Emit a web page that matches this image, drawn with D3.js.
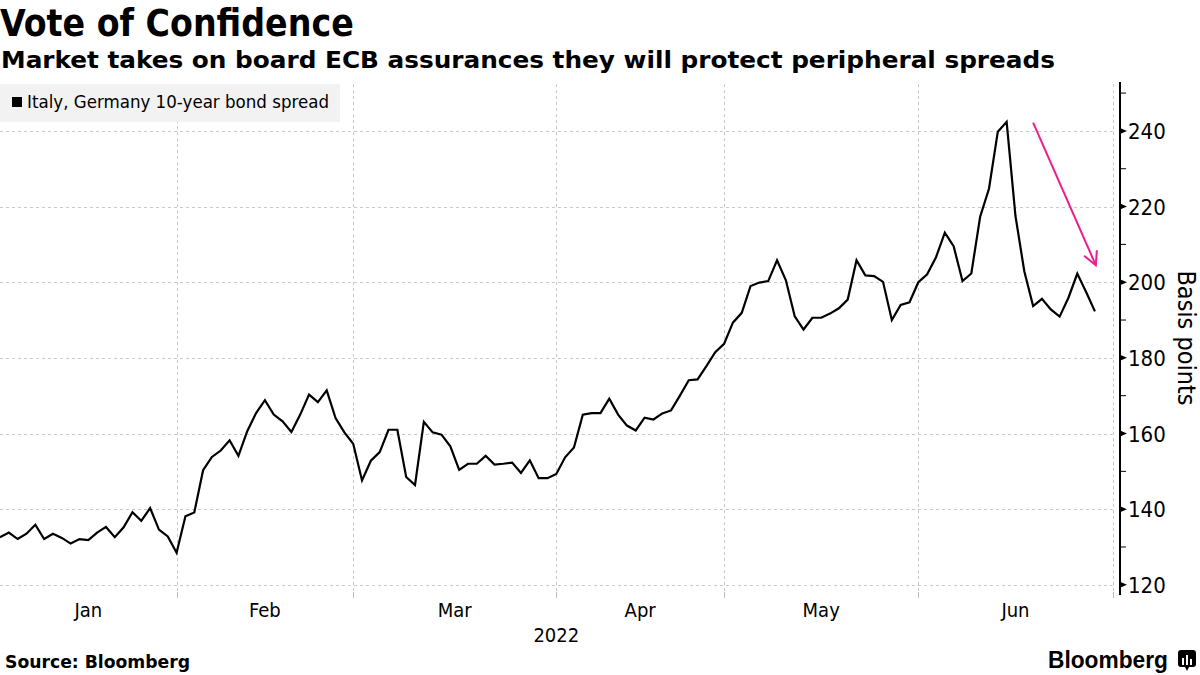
<!DOCTYPE html>
<html>
<head>
<meta charset="utf-8">
<script src="https://cdn.jsdelivr.net/npm/d3@7"></script>
<style>
  html, body { margin: 0; padding: 0; background: #fff; }
  svg { display: block; }
  text { font-family: "DejaVu Sans Condensed", "DejaVu Sans", sans-serif; font-stretch: condensed; }
</style>
</head>
<body>
<svg id="chart" width="1200" height="675"></svg>
<script>
// ---------------- data ----------------
const title = "Vote of Confidence";
const subtitle = "Market takes on board ECB assurances they will protect peripheral spreads";
const seriesName = "Italy, Germany 10-year bond spread";
const yLabel = "Basis points";
const yearLabel = "2022";
const sourceText = "Source: Bloomberg";

// trading calendar (business days, Jan 3 – Jun 30, 2022) and market holidays
const calendarStart = "2022-01-03";
const calendarEnd = "2022-06-30";
const holidays = ["2022-04-15", "2022-04-18"];

// spread values, one per trading day from Jan 3, 2022 (basis points)
const spread = [
  132.6, 133.8, 132.1, 133.5, 135.9, 132.1, 133.5, 132.4, 130.9, 132.1,
  131.8, 133.8, 135.3, 132.6, 135.2, 139.2, 136.9, 140.3, 134.6, 132.8,
  128.5, 138.1, 139.1, 150.3, 153.8, 155.5, 158.2, 154.1, 160.6, 165.4,
  168.8, 165.0, 163.2, 160.4, 165.0, 170.3, 168.3, 171.4, 164.1, 160.3,
  157.3, 147.6, 152.8, 155.1, 161.0, 161.0, 148.5, 146.4, 163.1, 160.3,
  159.7, 156.6, 150.4, 152.0, 152.0, 154.1, 151.8, 152.0, 152.3, 149.6,
  152.9, 148.2, 148.2, 149.3, 153.7, 156.3, 165.0, 165.4, 165.4, 169.2,
  165.0, 162.1, 160.8, 164.2, 163.7, 165.3, 166.1, 170.0, 174.1, 174.3,
  177.8, 181.5, 183.7, 189.3, 191.9, 199.0, 199.9, 200.3, 205.8, 200.5,
  191.0, 187.5, 190.6, 190.6, 191.7, 193.1, 195.4, 205.8, 201.8, 201.6,
  200.1, 190.0, 194.0, 194.7, 200.0, 202.1, 206.6, 213.1, 209.5, 200.3,
  202.3, 217.3, 224.7, 239.8, 242.4, 217.5, 202.9, 193.7, 195.6, 192.8,
  190.9, 195.9, 202.3, 197.4, 192.3
];

const yTicks = [120, 140, 160, 180, 200, 220, 240];
const yMinorTicks = [130, 150, 170, 190, 210, 230, 250];
const yDomain = [118.1, 252.4];
// arrow annotation: from / to (trading-day index, value)
const arrowFrom = { i: 117, v: 242.2 };
const arrowTo = { i: 124.1, v: 204.5 };

// ---------------- calendar ----------------
const parse = d3.timeParse("%Y-%m-%d");
const fmt = d3.timeFormat("%Y-%m-%d");
const tradingDays = d3.timeDay.range(parse(calendarStart), d3.timeDay.offset(parse(calendarEnd), 1))
  .filter(d => d.getDay() !== 0 && d.getDay() !== 6 && !holidays.includes(fmt(d)));
const data = spread.map((v, i) => ({ i, date: tradingDays[i], v }));

// month-end boundaries (last trading day of each month)
const monthEnds = [];
tradingDays.forEach((d, i) => {
  const next = tradingDays[i + 1];
  if (!next || next.getMonth() !== d.getMonth()) monthEnds.push(i);
});
const monthLabels = [];
let prev = 0;
monthEnds.forEach(e => {
  monthLabels.push({ from: prev, to: e, label: d3.timeFormat("%b")(tradingDays[e]) });
  prev = e;
});

// ---------------- layout ----------------
const svg = d3.select("#chart");
const plot = { left: 0, right: 1112.6, top: 84, bottom: 592 };
const axisX = 1120;

const x = d3.scaleLinear().domain([0, tradingDays.length - 1]).range([plot.left, plot.right]);
const y = d3.scaleLinear().domain(yDomain).range([plot.bottom, plot.top]);

function fitText(sel, width) {
  const w = sel.node().getComputedTextLength();
  if (Math.abs(w - width) / width > 0.01) {
    sel.attr("textLength", width).attr("lengthAdjust", "spacingAndGlyphs");
  }
}

// titles
const t1 = svg.append("text").attr("x", 0).attr("y", 36)
  .attr("font-size", 37).attr("font-weight", "bold").attr("fill", "#000").text(title);
fitText(t1, 352);
const t2 = svg.append("text").attr("x", 1).attr("y", 68)
  .attr("font-size", 23).attr("font-weight", "bold").attr("fill", "#000").text(subtitle);
fitText(t2, 1054);

// grid
const grid = svg.append("g").attr("stroke", "#c8c8c8").attr("stroke-width", 1)
  .attr("stroke-dasharray", "3,3").attr("fill", "none");
grid.selectAll("line.h").data(yTicks).join("line")
  .attr("class", "h")
  .attr("x1", plot.left).attr("x2", plot.right)
  .attr("y1", d => Math.round(y(d)) + 0.5).attr("y2", d => Math.round(y(d)) + 0.5);
grid.selectAll("line.v").data(monthEnds).join("line")
  .attr("class", "v")
  .attr("x1", d => Math.round(x(d)) + 0.5).attr("x2", d => Math.round(x(d)) + 0.5)
  .attr("y1", plot.top).attr("y2", plot.bottom);

// legend
const lg = svg.append("g");
lg.append("rect").attr("x", 0).attr("y", 84).attr("width", 340).attr("height", 38).attr("fill", "#f2f2f2");
lg.append("rect").attr("x", 12).attr("y", 97).attr("width", 10).attr("height", 10).attr("fill", "#000");
const lt = lg.append("text").attr("x", 27).attr("y", 108).attr("font-size", 17).attr("fill", "#000").text(seriesName);
fitText(lt, 302);

// line
svg.append("path").datum(data)
  .attr("fill", "none").attr("stroke", "#000").attr("stroke-width", 2.2)
  .attr("stroke-linejoin", "miter").attr("stroke-miterlimit", 4)
  .attr("d", d3.line().x(d => x(d.i)).y(d => y(d.v)));

// arrow annotation
const ax1 = x(arrowFrom.i), ay1 = y(arrowFrom.v), ax2 = x(arrowTo.i), ay2 = y(arrowTo.v);
const ang = Math.atan2(ay2 - ay1, ax2 - ax1);
const headLen = 15, headAng = Math.PI / 6.5;
const pink = "#ec1e8c";
svg.append("line").attr("x1", ax1).attr("y1", ay1).attr("x2", ax2).attr("y2", ay2)
  .attr("stroke", pink).attr("stroke-width", 2);
svg.append("path")
  .attr("d", `M${ax2 - headLen * Math.cos(ang - headAng)},${ay2 - headLen * Math.sin(ang - headAng)} L${ax2},${ay2} L${ax2 - headLen * Math.cos(ang + headAng)},${ay2 - headLen * Math.sin(ang + headAng)}`)
  .attr("fill", "none").attr("stroke", pink).attr("stroke-width", 2);

// right y axis
const ya = svg.append("g");
ya.append("line").attr("x1", axisX).attr("x2", axisX).attr("y1", 82).attr("y2", 595)
  .attr("stroke", "#000").attr("stroke-width", 2);
ya.selectAll("path.maj").data(yTicks).join("path")
  .attr("class", "maj")
  .attr("d", d => `M${axisX},${y(d) - 3} L${axisX + 7},${y(d)} L${axisX},${y(d) + 3} Z`)
  .attr("fill", "#000");
ya.selectAll("line.min").data(yMinorTicks).join("line")
  .attr("class", "min")
  .attr("x1", axisX).attr("x2", axisX + 6)
  .attr("y1", d => y(d)).attr("y2", d => y(d))
  .attr("stroke", "#000").attr("stroke-width", 1);
ya.selectAll("text").data(yTicks).join("text")
  .attr("x", axisX + 8).attr("y", d => y(d) + 8)
  .attr("font-size", 22).attr("fill", "#000")
  .text(d => d);
svg.append("text")
  .attr("transform", `translate(1178,338) rotate(90)`)
  .attr("text-anchor", "middle").attr("font-size", 25).attr("fill", "#000")
  .text(yLabel);

// bottom axis ticks and labels
const xa = svg.append("g");
xa.selectAll("line").data(monthEnds).join("line")
  .attr("x1", d => Math.round(x(d)) + 0.5).attr("x2", d => Math.round(x(d)) + 0.5)
  .attr("y1", plot.bottom).attr("y2", plot.bottom + 6)
  .attr("stroke", "#bbb").attr("stroke-width", 1);
xa.selectAll("text").data(monthLabels).join("text")
  .attr("x", d => (x(d.from) + x(d.to)) / 2).attr("y", 617)
  .attr("text-anchor", "middle").attr("font-size", 20).attr("fill", "#000")
  .text(d => d.label);
svg.append("text").attr("x", (x(0) + x(tradingDays.length - 1)) / 2).attr("y", 642)
  .attr("text-anchor", "middle").attr("font-size", 20).attr("fill", "#000").text(yearLabel);

// footer
const src = svg.append("text").attr("x", 5).attr("y", 668).attr("font-size", 17).attr("font-weight", "bold")
  .attr("fill", "#000").text(sourceText);
fitText(src, 185);
const bl = svg.append("text").attr("x", 1048).attr("y", 668).attr("font-size", 23).attr("font-weight", "bold")
  .attr("fill", "#000").attr("style", "font-family: 'Liberation Sans', Arial, sans-serif; font-stretch: normal;")
  .text("Bloomberg");
fitText(bl, 120);
const logo = svg.append("g").attr("transform", "translate(1178,650)");
logo.append("rect").attr("width", 18).attr("height", 17).attr("rx", 3).attr("fill", "#000");
logo.append("path").attr("d", "M7,17 L9,21 L11,17 Z").attr("fill", "#000");
[[4, 8, 7], [8, 5, 10], [12, 9, 6]].forEach(([bx, by, bh]) => {
  logo.append("rect").attr("x", bx).attr("y", by).attr("width", 2).attr("height", bh).attr("fill", "#fff");
});
</script>
</body>
</html>
